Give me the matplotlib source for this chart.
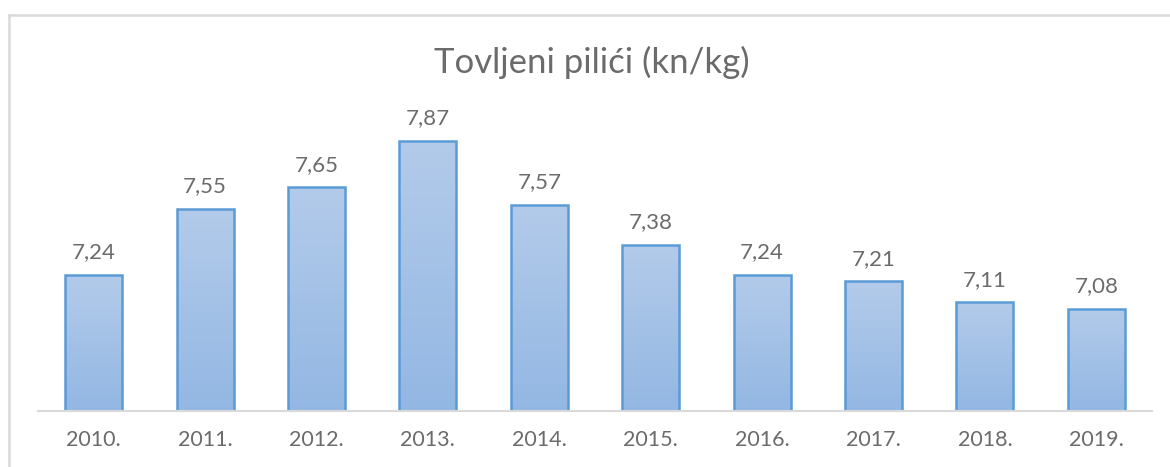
import numpy as np
import matplotlib.pyplot as plt
from matplotlib.colors import LinearSegmentedColormap
from matplotlib.lines import Line2D

# data
years = ["2010.", "2011.", "2012.", "2013.", "2014.",
         "2015.", "2016.", "2017.", "2018.", "2019."]
prices = [7.24, 7.55, 7.65, 7.87, 7.57, 7.38, 7.24, 7.21, 7.11, 7.08]

plt.rcParams["font.family"] = ["Lato", "DejaVu Sans"]
text_color = "#6b6b6b"

W, H = 1170, 467
fig = plt.figure(figsize=(W / 100, H / 100), dpi=100)

# axes placed in pixels: x from 38 to 1152, baseline at y=411
ax = fig.add_axes([38 / W, (H - 411) / H, (1152 - 38) / W, (411 - 113) / H])
ymin, ymax = 6.6, 8.0
ax.set_xlim(-0.5, len(years) - 0.5)
ax.set_ylim(ymin, ymax)

x = np.arange(len(years))
bars = ax.bar(x, np.array(prices) - ymin, bottom=ymin, width=0.51,
              facecolor="none", edgecolor="#5b9bd5", linewidth=1.8, zorder=3)

# vertical gradient inside each bar, light at the top
cmap = LinearSegmentedColormap.from_list("bar", ["#93b7e3", "#b3cbea"])
grad = np.linspace(0, 1, 256).reshape(-1, 1)
for b in bars:
    x0, y0 = b.get_x(), b.get_y()
    im = ax.imshow(grad, cmap=cmap, origin="lower", aspect="auto",
                   extent=[x0, x0 + b.get_width(), y0, y0 + b.get_height()],
                   zorder=2)
    im.set_clip_path(b)

ax.set_xlim(-0.5, len(years) - 0.5)
ax.set_ylim(ymin, ymax)

for xi, v in zip(x, prices):
    ax.annotate(f"{v:.2f}".replace(".", ","), (xi, v), xytext=(0, 9),
                textcoords="offset points", ha="center", va="bottom",
                fontsize=16, color=text_color, annotation_clip=False)

ax.set_xticks(x)
ax.set_xticklabels(years, fontsize=15.5, color=text_color)
ax.tick_params(axis="x", length=0, pad=14)
ax.set_yticks([])
for side in ["top", "right", "left"]:
    ax.spines[side].set_visible(False)
ax.spines["bottom"].set_color("#d9d9d9")
ax.spines["bottom"].set_linewidth(1.5)
ax.spines["bottom"].set_zorder(4)

fig.text(592 / W, 1 - 62 / H, "Tovljeni pilići (kn/kg)", ha="center",
         va="center", fontsize=25, color=text_color)

# chart frame (cropped at right and bottom)
fig.add_artist(Line2D([8.5 / W, 1], [1 - 15 / H, 1 - 15 / H],
                      transform=fig.transFigure, color="#d9d9d9", lw=1.8))
fig.add_artist(Line2D([8.5 / W, 8.5 / W], [0, 1 - 15 / H],
                      transform=fig.transFigure, color="#d9d9d9", lw=1.8))

fig.savefig("out.png", dpi=100)
